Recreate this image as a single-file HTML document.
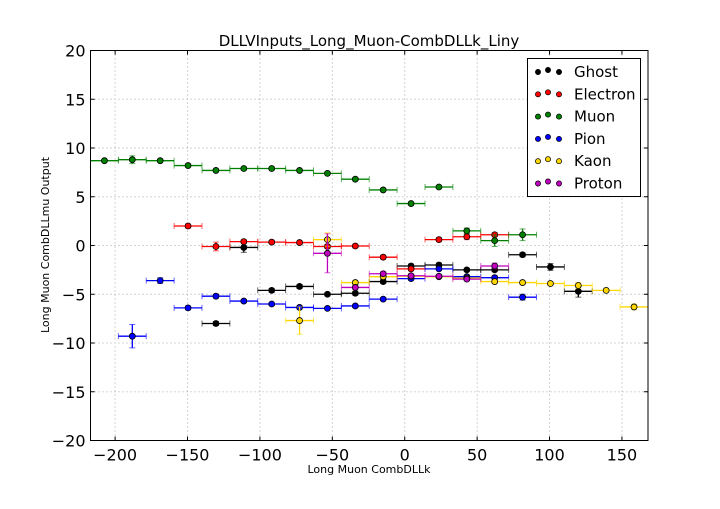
<!DOCTYPE html>
<html><head><meta charset="utf-8"><style>
body{margin:0;background:#fff;}
svg text{font-family:"DejaVu Sans","Liberation Sans",sans-serif;}
</style></head><body>
<svg id="chart" width="720" height="504" viewBox="0 0 720 504" xmlns="http://www.w3.org/2000/svg">
<rect width="720" height="504" fill="#fff"/>
<g id="grid"></g>
<g id="marks"></g>
<g id="axes"></g>
</svg>
<script>
const binLow = -217, binWidth = 19.25;
const xTicks = [-200, -150, -100, -50, 0, 50, 100, 150];
const yTicks = [-20, -15, -10, -5, 0, 5, 10, 15, 20];
const seriesNames = ["Ghost","Electron","Muon","Pion","Kaon","Proton"];
const seriesColors = ["#000000","#ff0000","#008000","#0000ff","#ffd700","#bf00bf"];
// [binIndex, value, yErr]
const ghost = [[4,-8.0,0.2],[5,-0.2,0.5],[6,-4.6,0.2],[7,-4.2,0.2],[8,-5.0,0.15],[9,-4.9,0.2],[10,-3.7,0.2],[11,-2.1,0.2],[12,-2.0,0.2],[13,-2.5,0.15],[14,-2.5,0.15],[15,-0.95,0.2],[16,-2.2,0.35],[17,-4.7,0.6]];
const electron = [[3,2.0,0.2],[4,-0.1,0.45],[5,0.4,0.2],[6,0.35,0.15],[7,0.3,0.15],[8,-0.1,0.2],[9,-0.05,0.2],[10,-1.2,0.2],[11,-2.4,0.2],[12,0.6,0.2],[13,0.9,0.3],[14,1.1,0.2]];
const muon = [[0,8.7,0.15],[1,8.8,0.4],[2,8.7,0.15],[3,8.2,0.15],[4,7.7,0.15],[5,7.9,0.15],[6,7.9,0.15],[7,7.7,0.15],[8,7.4,0.15],[9,6.8,0.15],[10,5.7,0.15],[11,4.3,0.15],[12,6.0,0.15],[13,1.5,0.3],[14,0.5,0.6],[15,1.1,0.6]];
const pion = [[1,-9.3,1.2],[2,-3.6,0.3],[3,-6.4,0.2],[4,-5.2,0.2],[5,-5.7,0.15],[6,-6.0,0.15],[7,-6.35,0.15],[8,-6.45,0.15],[9,-6.2,0.15],[10,-5.5,0.15],[11,-3.4,0.15],[12,-2.4,0.15],[13,-3.2,0.15],[14,-3.3,0.2],[15,-5.3,0.3]];
const kaon = [[7,-7.7,1.4],[8,0.6,0.7],[9,-3.8,0.2],[10,-3.2,0.15],[11,-3.15,0.15],[12,-3.2,0.15],[13,-3.35,0.15],[14,-3.7,0.15],[15,-3.8,0.15],[16,-3.9,0.2],[17,-4.1,0.3],[18,-4.6,0.15],[19,-6.3,0.3]];
const proton = [[8,-0.8,2.0],[9,-4.3,0.2],[10,-2.9,0.2],[11,-3.1,0.2],[12,-3.15,0.15],[13,-3.45,0.15],[14,-2.1,0.3]];
const allSeries = [ghost, electron, muon, pion, kaon, proton];

const L=90.5,R=648,T=50.5,B=440.5,xMin=-217,xMax=168,yMin=-20,yMax=20;
const X=v=>L+(v-xMin)/(xMax-xMin)*(R-L);
const Y=v=>B-(v-yMin)/(yMax-yMin)*(B-T);
const NS="http://www.w3.org/2000/svg";
function mk(tag,attrs,parent){const e=document.createElementNS(NS,tag);for(const k in attrs)e.setAttribute(k,attrs[k]);parent.appendChild(e);return e;}
const grid=document.getElementById('grid'),marks=document.getElementById('marks'),axes=document.getElementById('axes');

xTicks.forEach(t=>{
  const g=mk('line',{x1:X(t),x2:X(t),y1:T,y2:B,stroke:'#aaa','stroke-dasharray':'1,3'},grid);
  
  
  mk('line',{x1:X(t),x2:X(t),y1:B,y2:B-4,stroke:'#000'},axes);
  mk('line',{x1:X(t),x2:X(t),y1:T,y2:T+4,stroke:'#000'},axes);
  const tx=mk('text',{x:X(t),y:B+20,'font-size':16,'text-anchor':'middle'},axes);
  tx.textContent=(t<0?'\u2212'+(-t):t);
  
  
});
yTicks.forEach(t=>{
  const g=mk('line',{x1:L,x2:R,y1:Y(t),y2:Y(t),stroke:'#aaa','stroke-dasharray':'1,3'},grid);
  
  
  mk('line',{x1:L,x2:L+4,y1:Y(t),y2:Y(t),stroke:'#000'},axes);
  mk('line',{x1:R,x2:R-4,y1:Y(t),y2:Y(t),stroke:'#000'},axes);
  const tx=mk('text',{x:L-5,y:Y(t)+6,'font-size':16,'text-anchor':'end'},axes);
  tx.textContent=(t<0?'\u2212'+(-t):t);
  
  
});
const frame=mk('rect',{x:L,y:T,width:R-L,height:B-T,fill:'none',stroke:'#000'},axes);



allSeries.forEach((s,si)=>{
  const col=seriesColors[si];
  const g=mk('g',{},marks);
  
  
  s.forEach(p=>{
    const c=binLow+binWidth*(p[0]+0.5);
    const cx=X(c),cy=Y(p[1]);
    const x1=X(c-binWidth/2),x2=X(c+binWidth/2);
    mk('line',{x1:x1,x2:x2,y1:cy,y2:cy,stroke:col,'stroke-width':1.3},g);
    mk('line',{x1:x1,x2:x1,y1:cy-3,y2:cy+3,stroke:col,'stroke-width':1,opacity:0.6},g);
    mk('line',{x1:x2,x2:x2,y1:cy-3,y2:cy+3,stroke:col,'stroke-width':1,opacity:0.6},g);
    const ya=Y(p[1]+p[2]),yb=Y(p[1]-p[2]);
    mk('line',{x1:cx,x2:cx,y1:ya,y2:yb,stroke:col,'stroke-width':1.3},g);
    mk('line',{x1:cx-3,x2:cx+3,y1:ya,y2:ya,stroke:col,opacity:0.6},g);
    mk('line',{x1:cx-3,x2:cx+3,y1:yb,y2:yb,stroke:col,opacity:0.6},g);
    const m=mk('circle',{cx:cx,cy:cy,r:3,fill:col,stroke:'#000','stroke-width':0.8},g);
    
    
  });
});

// legend
const lg=mk('g',{},axes);


mk('rect',{x:527.5,y:58.5,width:113,height:138,fill:'#fff',stroke:'#000'},lg);
seriesNames.forEach((n,i)=>{
  const y=71+i*22.3;
  const e=mk('g',{},lg);
  
  
  [538,548,559].forEach((x,j)=>mk('circle',{cx:x,cy:y+(j==1?-1:1),r:2.6,fill:seriesColors[i],stroke:'#000','stroke-width':0.7},e));
  const t=mk('text',{x:574,y:y+6,'font-size':15},e);
  t.textContent=n;
});
</script>
<text></text>
<div style="position:absolute;left:0;top:0;width:720px;height:504px;pointer-events:none;">
<svg width="720" height="504" style="position:absolute;left:0;top:0" xmlns="http://www.w3.org/2000/svg">
<text x="369" y="46" font-size="15" text-anchor="middle" font-family="DejaVu Sans, Liberation Sans, sans-serif">DLLVInputs_Long_Muon-CombDLLk_Liny</text>
<text x="369" y="473" font-size="11" text-anchor="middle" font-family="DejaVu Sans, Liberation Sans, sans-serif">Long Muon CombDLLk</text>
<text x="0" y="0" font-size="11" text-anchor="middle" transform="translate(49,245) rotate(-90)" font-family="DejaVu Sans, Liberation Sans, sans-serif">Long Muon CombDLLmu Output</text>
</svg>
</div>
</body></html>
